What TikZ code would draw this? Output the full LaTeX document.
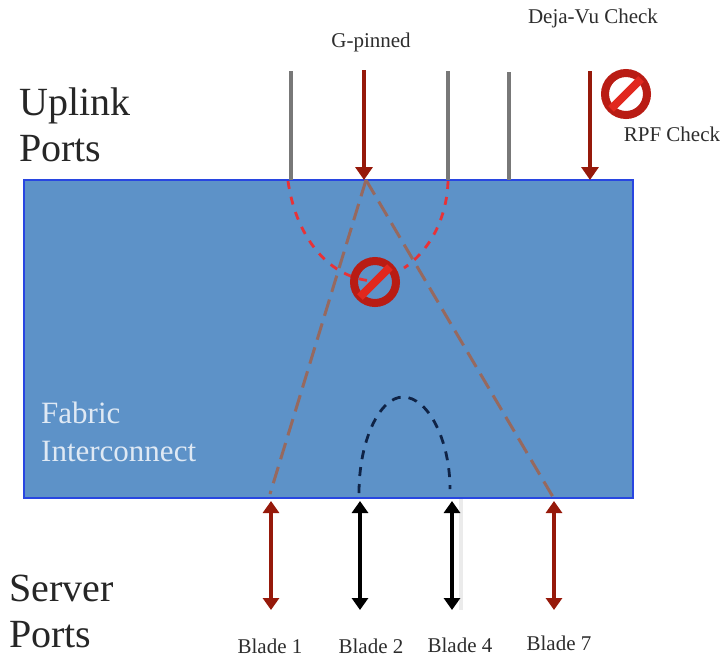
\documentclass[tikz,border=0pt]{standalone}
\usepackage{fontspec}
\setmainfont{Liberation Serif}
\usetikzlibrary{arrows.meta}
\definecolor{fabric}{RGB}{93,146,200}
\definecolor{edgeblue}{RGB}{40,70,225}
\definecolor{portgray}{RGB}{120,120,120}
\definecolor{darkred}{RGB}{150,25,10}
\definecolor{brownd}{RGB}{150,105,95}
\definecolor{redd}{RGB}{232,50,55}
\definecolor{navyd}{RGB}{15,35,70}
\definecolor{signred}{RGB}{185,28,20}
\definecolor{signbar}{RGB}{225,40,30}
\definecolor{labelc}{RGB}{45,45,45}
\tikzset{
  x=1pt,y=-1pt,
  bigtext/.style={font=\fontsize{40}{46}\selectfont,text=black!85,align=left,anchor=west,inner sep=0pt},
  fabrictext/.style={font=\fontsize{31}{38}\selectfont,text=white!80!fabric,align=left,anchor=west,inner sep=0pt},
  smalltext/.style={font=\fontsize{21}{23}\selectfont,text=labelc,inner sep=0pt},
  fabricbox/.style={draw=edgeblue,fill=fabric,line width=2pt,minimum width=609pt,minimum height=318pt,inner sep=0pt},
  grayport/.style={draw=portgray,line width=4.2pt},
  redin/.style={draw=darkred,line width=3.8pt,-{Triangle[length=13pt,width=17pt]}},
  biarrow/.style={line width=4.4pt,{Triangle[length=12pt,width=16pt]}-{Triangle[length=12pt,width=16pt]}},
  branch/.style={draw=brownd,line width=3pt,dash pattern=on 17pt off 8pt},
  flood/.style={draw=redd,line width=2.8pt,dash pattern=on 8pt off 8pt},
  localsw/.style={draw=navyd,line width=2.8pt,dash pattern=on 9pt off 8pt},
  nosign/.style={circle,draw=signred,line width=8pt,minimum size=42pt,inner sep=0pt},
}
\newcommand{\nobar}[1]{\draw[signbar,line width=8pt] (#1)++(-15,15) -- ++(30,-30);}
\begin{document}
\begin{tikzpicture}
\useasboundingbox (0,0) rectangle (723,657);
\node[fabricbox] (fi) at (328.5,339) {};
% ports
\coordinate (u1t) at (291,71); \coordinate (u1b) at (291,180);
\coordinate (u2t) at (364,70); \coordinate (u2b) at (364,180);
\coordinate (u3t) at (448,71); \coordinate (u3b) at (448,180);
\coordinate (u4t) at (509,72); \coordinate (u4b) at (509,180);
\coordinate (u5t) at (590,71); \coordinate (u5b) at (590,180);
\coordinate (b1t) at (271,501); \coordinate (b1b) at (271,610);
\coordinate (b2t) at (360,501); \coordinate (b2b) at (360,610);
\coordinate (b4t) at (452,501); \coordinate (b4b) at (452,610);
\coordinate (b7t) at (554,501); \coordinate (b7b) at (554,610);
\coordinate (hub) at (366,180);
\coordinate (b1in) at (270,494); \coordinate (b7in) at (553,497);
\coordinate (la) at (288,181); \coordinate (lb) at (372,281);
\coordinate (ra) at (448,181); \coordinate (rb) at (404,268);
\coordinate (ka) at (359,493); \coordinate (kb) at (450,489);
% faint shadow beside Blade 4
\fill[black!8] (459,499) rectangle (463,610);
\draw[grayport] (u1t) -- (u1b);
\draw[grayport] (u3t) -- (u3b);
\draw[grayport] (u4t) -- (u4b);
\draw[redin] (u2t) -- (u2b);
\draw[redin] (u5t) -- (u5b);
% internal paths
\draw[flood] (la) .. controls (295,232) and (325,277) .. (lb);
\draw[flood] (ra) .. controls (447,220) and (428,252) .. (rb);
\draw[branch] (hub) -- (b1in);
\draw[branch] (hub) -- (b7in);
\draw[localsw] (ka) .. controls (359,440) and (380,397) .. (403,397) .. controls (428,397) and (450,440) .. (kb);
% server ports
\draw[biarrow,draw=darkred,fill=darkred] (b1t) -- (b1b);
\draw[biarrow,draw=black,fill=black] (b2t) -- (b2b);
\draw[biarrow,draw=black,fill=black] (b4t) -- (b4b);
\draw[biarrow,draw=darkred,fill=darkred] (b7t) -- (b7b);
% prohibition signs
\node[nosign] (s1) at (375,282) {}; \nobar{s1}
\node[nosign] (s2) at (626,94) {}; \nobar{s2}
% labels
\node[bigtext] (uplink) at (19,125) {Uplink\\Ports};
\node[bigtext] (server) at (9,611) {Server\\Ports};
\node[fabrictext] (fab) at (41,432) {Fabric\\Interconnect};
\node[smalltext] (gp) at (371,42) {G-pinned};
\node[smalltext] (dv) at (593,18) {Deja-Vu Check};
\node[smalltext] (rpf) at (672,134) {RPF Check};
\node[smalltext] (l1) at (270,646) {Blade 1};
\node[smalltext] (l2) at (371,646) {Blade 2};
\node[smalltext] (l4) at (460,645) {Blade 4};
\node[smalltext] (l7) at (559,643) {Blade 7};
\end{tikzpicture}
\end{document}
